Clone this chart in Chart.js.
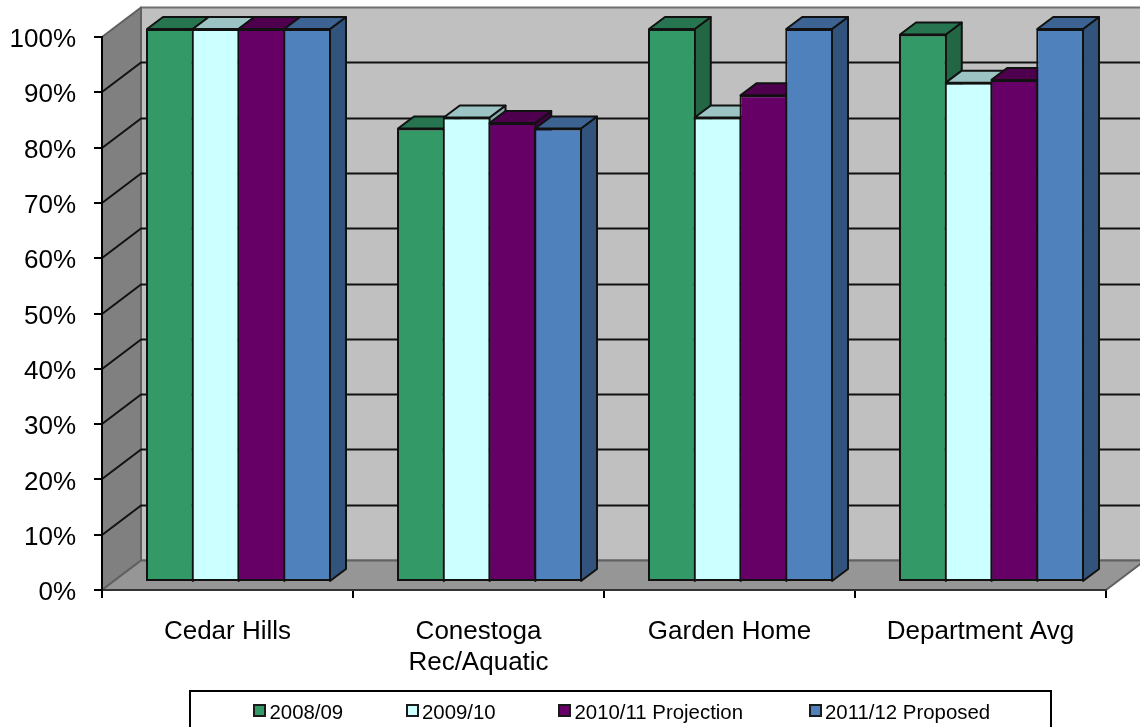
<!DOCTYPE html>
<html>
<head>
<meta charset="utf-8">
<style>
  html, body { margin: 0; padding: 0; background: #fff; overflow: hidden; }
  #wrap { position: relative; width: 1140px; height: 727px; overflow: hidden; }
  canvas { display: block; }
  #legend { position: absolute; left: 189px; top: 690px; width: 859px; height: 60px; border: 2px solid #000; box-sizing: content-box; }
  .item { position: absolute; top: 8px; font: 20.4px/24px "Liberation Sans", Arial, sans-serif; color: #000; white-space: nowrap; }
  .item i { position: absolute; left: -16.5px; top: 4px; width: 13px; height: 13px; box-sizing: border-box; border: 2.5px solid #1a1a1a; }
</style>
</head>
<body>
<div id="wrap">
  <canvas id="myChart" width="1140" height="727"></canvas>
  <div id="legend"></div>
</div>
<script src="https://cdn.jsdelivr.net/npm/chart.js@4"></script>
<script>
const categories = ['Cedar Hills', ['Conestoga', 'Rec/Aquatic'], 'Garden Home', 'Department Avg'];
const seriesNames = ['2008/09', '2009/10', '2010/11 Projection', '2011/12 Proposed'];
const values2008 = [100, 82, 100, 99];
const values2009 = [100, 84, 84, 90.3];
const values2010 = [100, 83, 88, 90.8];
const values2011 = [100, 82, 100, 100];

const front = ['#339966', '#CCFFFF', '#660066', '#4F81BD'];
const top3d = ['#277550', '#9CC4C4', '#4E004E', '#3C6391'];
const side3d = ['#226644', '#87AAAA', '#440044', '#32547C'];

// where the bars sit inside the box, and how deep the box and bars are
const barShift = { x: 11, y: -8 };
const barDepth = { x: 16, y: -12 };
const wallDepth = { x: 39, y: -29.5 };
const legendLeft = [78.5, 231, 383.5, 634];

function poly(c, pts, fill, stroke, lw) {
  c.beginPath();
  pts.forEach((p, i) => i ? c.lineTo(p[0], p[1]) : c.moveTo(p[0], p[1]));
  c.closePath();
  c.fillStyle = fill;
  c.fill();
  if (stroke) {
    c.strokeStyle = stroke;
    c.lineWidth = lw;
    c.lineJoin = 'round';
    c.stroke();
  }
}

const box3d = {
  id: 'box3d',
  // walls, floor and gridlines go under the axes
  beforeDraw(chart) {
    const c = chart.ctx, a = chart.chartArea, y = chart.scales.y;
    const dx = wallDepth.x, dy = wallDepth.y;
    c.save();
    poly(c, [[a.left + dx, a.top + dy], [a.right + dx, a.top + dy], [a.right + dx, a.bottom + dy], [a.left + dx, a.bottom + dy]], '#C0C0C0', '#707070', 2);
    poly(c, [[a.left, a.top], [a.left + dx, a.top + dy], [a.left + dx, a.bottom + dy], [a.left, a.bottom]], '#808080', '#606060', 2);
    poly(c, [[a.left, a.bottom], [a.right, a.bottom], [a.right + dx, a.bottom + dy], [a.left + dx, a.bottom + dy]], '#969696', '#606060', 2);
    c.strokeStyle = '#111';
    c.lineWidth = 2;
    y.ticks.forEach(t => {
      if (t.value === 0 || t.value === 100) return;
      const py = Math.round(y.getPixelForValue(t.value));
      c.beginPath();
      c.moveTo(a.left, py);
      c.lineTo(a.left + dx, py + dy);
      c.lineTo(a.right + dx, py + dy);
      c.stroke();
    });
    c.restore();
    // the original's value labels sit a little under their ticks
    y.getLabelItems().forEach(item => { item.options.translation[1] += 3; });
  },
  // bars go left to right, top and side first, so later bars cover earlier sides
  beforeDatasetsDraw(chart) {
    const c = chart.ctx;
    const dx = barDepth.x, dy = barDepth.y;
    c.save();
    c.translate(barShift.x, barShift.y);
    chart.data.datasets.forEach((ds, i) => {
      const meta = chart.getDatasetMeta(i);
      meta.data.forEach(el => {
        const b = el.getProps(['x', 'y', 'base', 'width']);
        const l = b.x - b.width / 2 + 1, r = b.x + b.width / 2 - 1;
        poly(c, [[r, b.y], [r + dx, b.y + dy], [r + dx, b.base + dy], [r, b.base]], side3d[i], '#111', 2);
        poly(c, [[l, b.y], [r, b.y], [r + dx, b.y + dy], [l + dx, b.y + dy]], top3d[i], '#111', 2);
      });
      meta.controller.draw();
    });
    c.restore();
    return false;
  }
};

const allValues = [values2008, values2009, values2010, values2011];

const chart = new Chart(document.getElementById('myChart'), {
  type: 'bar',
  data: {
    labels: categories,
    datasets: seriesNames.map((name, i) => ({
      label: name,
      data: allValues[i],
      backgroundColor: front[i],
      borderColor: '#111',
      borderWidth: 2,
      borderSkipped: false,
      categoryPercentage: 0.729,
      barPercentage: 1.044
    }))
  },
  options: {
    responsive: false,
    animation: false,
    layout: { padding: { top: 37, right: 34, left: 0, bottom: 0 } },
    plugins: { legend: { display: false }, tooltip: { enabled: false } },
    scales: {
      x: {
        afterFit: s => { s.height = 137; },
        grid: { drawOnChartArea: false, color: '#000', lineWidth: 2, tickLength: 8 },
        border: { color: '#333', width: 2 },
        ticks: {
          color: '#000',
          padding: 18,
          autoSkip: false,
          maxRotation: 0,
          font: { family: '"Liberation Sans", Arial', size: 26 }
        }
      },
      y: {
        min: 0,
        max: 100,
        afterFit: s => { s.width = 102; },
        grid: { drawOnChartArea: false, color: '#000', lineWidth: 2, tickLength: 8 },
        border: { color: '#000', width: 2 },
        ticks: {
          color: '#000',
          padding: 18,
          stepSize: 10,
          callback: v => v + '%',
          font: { family: '"Liberation Sans", Arial', size: 26 }
        }
      }
    }
  },
  plugins: [box3d]
});

// legend columns are not evenly spaced in the original, so it is built by hand
const legendBox = document.getElementById('legend');
chart.data.datasets.forEach((ds, i) => {
  const item = document.createElement('div');
  item.className = 'item';
  item.style.left = legendLeft[i] + 'px';
  const swatch = document.createElement('i');
  swatch.style.background = ds.backgroundColor;
  item.appendChild(swatch);
  item.appendChild(document.createTextNode(ds.label));
  legendBox.appendChild(item);
});
</script>
</body>
</html>
